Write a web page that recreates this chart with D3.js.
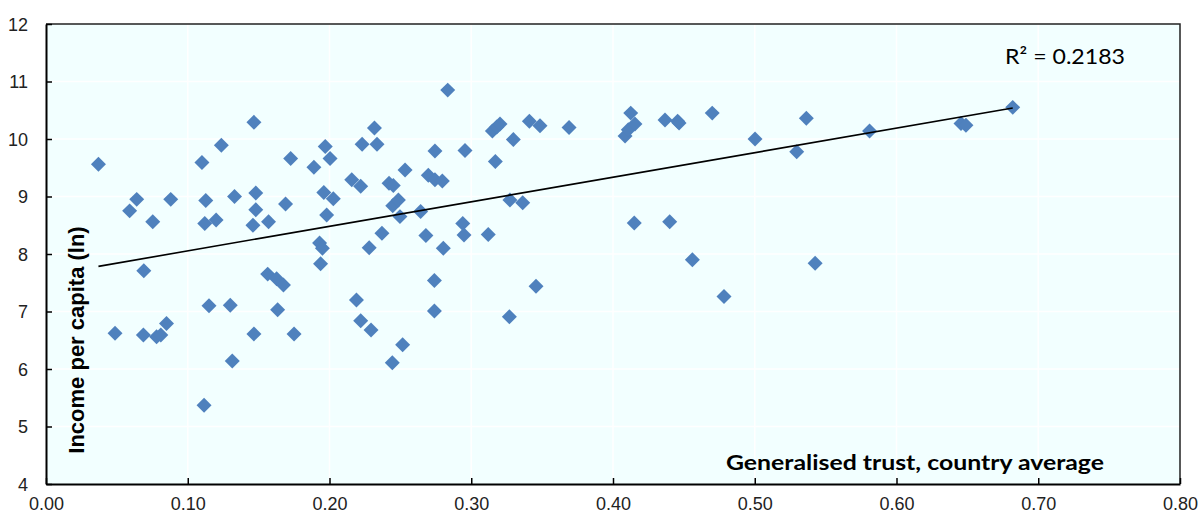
<!DOCTYPE html>
<html><head><meta charset="utf-8">
<script src="https://cdn.jsdelivr.net/npm/d3@7"></script>
<style>
html,body{margin:0;padding:0;background:#fff;}
svg{display:block;}
</style></head>
<body><svg id="chart" width="1198" height="517"></svg>
<script>
const trust = [0.037,0.0487,0.059,0.064,0.069,0.0687,0.0753,0.078,0.081,0.085,0.088,0.110,0.1115,0.112,0.1127,0.115,0.120,0.1237,0.130,0.1314,0.133,0.146,0.1467,0.1467,0.148,0.148,0.1564,0.157,0.1627,0.1634,0.1675,0.169,0.1726,0.175,0.189,0.193,0.1937,0.195,0.196,0.197,0.198,0.2004,0.2027,0.2157,0.219,0.222,0.222,0.223,0.228,0.2293,0.2317,0.2335,0.237,0.242,0.245,0.2443,0.2446,0.2486,0.2497,0.2516,0.2533,0.2643,0.268,0.2697,0.2744,0.2744,0.274,0.274,0.2796,0.2803,0.2834,0.294,0.2949,0.2956,0.312,0.3149,0.317,0.318,0.3203,0.3269,0.3273,0.3297,0.3363,0.341,0.3457,0.3485,0.369,0.4085,0.4108,0.4125,0.4155,0.415,0.4367,0.440,0.4456,0.4466,0.456,0.470,0.4783,0.5002,0.5296,0.5364,0.5426,0.581,0.6455,0.649,0.682];
const income = [9.56,6.62,8.75,8.95,7.71,6.59,8.56,6.56,6.59,6.79,8.95,9.59,5.37,8.53,8.93,7.10,8.59,9.89,7.11,6.14,9.00,8.50,10.29,6.61,9.06,8.77,7.65,8.56,7.57,7.03,7.46,8.87,9.66,6.61,9.51,8.19,7.83,8.10,9.07,9.87,8.68,9.66,8.96,9.29,7.20,9.18,6.84,9.91,8.11,6.68,10.19,9.91,8.36,9.23,9.19,6.11,8.84,8.94,8.65,6.42,9.46,8.74,8.32,9.37,9.29,9.79,7.54,7.01,9.27,8.10,10.85,8.53,8.33,9.80,8.34,10.14,9.61,10.21,10.26,6.91,8.94,9.99,8.89,10.31,7.44,10.23,10.20,10.05,10.16,10.45,10.26,8.54,10.33,8.56,10.31,10.28,7.90,10.45,7.26,10.00,9.78,10.36,7.84,10.14,10.27,10.24,10.55];
const xTicks = [0,0.1,0.2,0.3,0.4,0.5,0.6,0.7,0.8];
const yTicks = [4,5,6,7,8,9,10,11,12];
const xTitle = "Generalised trust, country average";
const yTitle = "Income per capita (ln)";
const r2Label = "R\u00B2 = 0.2183";

const svg = d3.select("#chart");
const L = 46, R = 1180, T = 24, B = 484;
const x = d3.scaleLinear().domain([0,0.8]).range([L,R]);
const y = d3.scaleLinear().domain([4,12]).range([B,T]);

// plot background
svg.append("rect").attr("x",L).attr("y",T).attr("width",R-L).attr("height",B-T)
  .attr("fill","#F2FFFF");

// gridlines
svg.append("g").selectAll("line").data(xTicks.slice(1,-1)).join("line")
  .attr("x1",d=>x(d)).attr("x2",d=>x(d)).attr("y1",T).attr("y2",B)
  .attr("stroke","#ffffff").attr("stroke-width",1.5);
svg.append("g").selectAll("line").data(yTicks.slice(1,-1)).join("line")
  .attr("y1",d=>y(d)).attr("y2",d=>y(d)).attr("x1",L).attr("x2",R)
  .attr("stroke","#ffffff").attr("stroke-width",1.5);

// border top/right
svg.append("path").attr("d",`M${L},${T}H${R}V${B}`).attr("fill","none")
  .attr("stroke","#222").attr("stroke-width",1.5);

const data = trust.map((t,i)=>({x:t,y:income[i]}));

// points
const sym = d3.symbol().type(d3.symbolSquare).size(112);
svg.append("g").selectAll("path").data(data).join("path")
  .attr("d",sym)
  .attr("transform",d=>`translate(${x(d.x)},${y(d.y)}) rotate(45)`)
  .attr("fill","#4F81BD");

// linear trend
const mx = d3.mean(data,d=>d.x), my = d3.mean(data,d=>d.y);
const sxy = d3.sum(data,d=>(d.x-mx)*(d.y-my)), sxx = d3.sum(data,d=>(d.x-mx)**2);
const slope = sxy/sxx, icpt = my - slope*mx;
const xr = d3.extent(data,d=>d.x);
svg.append("line")
  .attr("x1",x(xr[0])).attr("y1",y(icpt+slope*xr[0]))
  .attr("x2",x(xr[1])).attr("y2",y(icpt+slope*xr[1]))
  .attr("stroke","#000").attr("stroke-width",1.6);

// axes
const fmt = d3.format(".2f");
const xAxis = svg.append("g").attr("transform",`translate(0,${B})`)
  .call(d3.axisBottom(x).tickValues(xTicks).tickFormat(fmt).tickSizeInner(-6).tickSizeOuter(0).tickPadding(13));
const yAxis = svg.append("g").attr("transform",`translate(${L},0)`)
  .call(d3.axisLeft(y).tickValues(yTicks).tickFormat(d3.format("d")).tickSizeInner(-6).tickSizeOuter(0).tickPadding(18));
[xAxis,yAxis].forEach(a=>{
  a.select(".domain").attr("stroke","#000").attr("stroke-width",2);
  a.selectAll(".tick line").attr("stroke","#000").attr("stroke-width",1.5);
  a.selectAll(".tick text").attr("fill","#222")
    .style("font-family","'Liberation Sans Narrow','Arial Narrow',sans-serif")
    .style("font-size","18px");
});
yAxis.selectAll(".tick text").attr("dy","0.35em");

// titles
svg.append("text").attr("x",726).attr("y",470)
  .attr("textLength",378).attr("lengthAdjust","spacingAndGlyphs")
  .style("font-family","Lato, 'Open Sans', sans-serif").style("font-weight","bold").style("font-size","21px")
  .attr("fill","#000").text(xTitle);
svg.append("text").attr("transform","translate(84,340) rotate(-90)")
  .attr("text-anchor","middle")
  .style("font-family","'Liberation Sans', Arial, sans-serif").style("font-weight","bold").style("font-size","22px")
  .attr("fill","#000").text(yTitle);
svg.append("text").attr("x",1005).attr("y",64)
  .attr("textLength",120).attr("lengthAdjust","spacingAndGlyphs")
  .style("font-family","Lato, 'Open Sans', sans-serif").style("font-size","22px")
  .attr("fill","#000").text(r2Label);
</script></body></html>
